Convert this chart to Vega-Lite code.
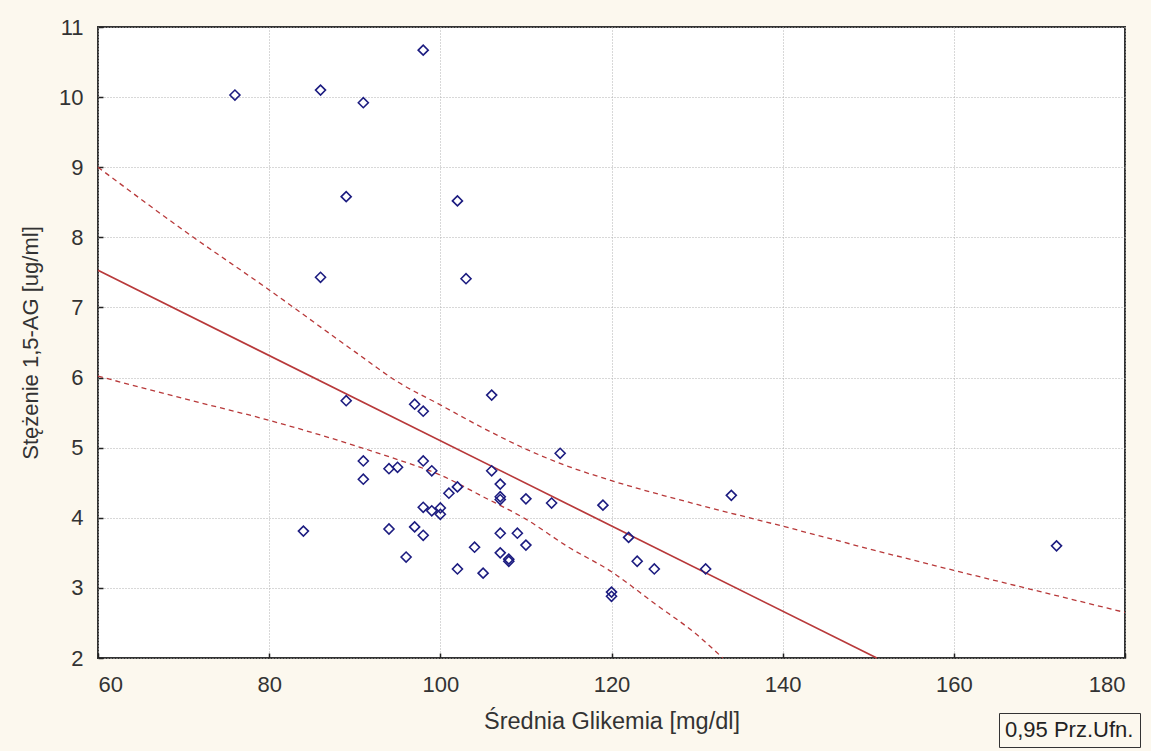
{
  "$schema": "https://vega.github.io/schema/vega-lite/v6.json",
  "width": 1027,
  "height": 631,
  "autosize": "none",
  "padding": {"left": 98, "top": 27, "right": 26, "bottom": 93},
  "background": "#fcf8ee",
  "config": {
    "font": "Liberation Sans",
    "view": {"fill": "white", "stroke": "#333333", "strokeWidth": 2},
    "axis": {
      "domain": false,
      "grid": true,
      "gridColor": "#b0b0b0",
      "gridDash": [1, 2],
      "gridWidth": 1,
      "tickColor": "#222",
      "tickSize": -5,
      "tickWidth": 1.5,
      "labelFontSize": 22,
      "labelColor": "#333",
      "titleFontSize": 22,
      "titleFontWeight": "normal",
      "titleColor": "#333"
    }
  },
  "datasets": {
    "pts": [
      {"x": 76, "y": 10.03}, {"x": 86, "y": 10.1}, {"x": 91, "y": 9.92}, {"x": 98, "y": 10.67},
      {"x": 89, "y": 8.58}, {"x": 102, "y": 8.52}, {"x": 86, "y": 7.43}, {"x": 103, "y": 7.41},
      {"x": 89, "y": 5.67}, {"x": 97, "y": 5.62}, {"x": 98, "y": 5.52}, {"x": 106, "y": 5.75},
      {"x": 114, "y": 4.92}, {"x": 91, "y": 4.81}, {"x": 91, "y": 4.55}, {"x": 94, "y": 4.7},
      {"x": 95, "y": 4.72}, {"x": 98, "y": 4.81}, {"x": 99, "y": 4.67}, {"x": 106, "y": 4.67},
      {"x": 107, "y": 4.48}, {"x": 107, "y": 4.3}, {"x": 107, "y": 4.26}, {"x": 110, "y": 4.27},
      {"x": 101, "y": 4.35}, {"x": 102, "y": 4.44}, {"x": 98, "y": 4.15}, {"x": 99, "y": 4.1},
      {"x": 100, "y": 4.14}, {"x": 100, "y": 4.05}, {"x": 113, "y": 4.21}, {"x": 119, "y": 4.18},
      {"x": 134, "y": 4.32}, {"x": 84, "y": 3.81}, {"x": 94, "y": 3.84}, {"x": 97, "y": 3.87},
      {"x": 98, "y": 3.75}, {"x": 107, "y": 3.78}, {"x": 109, "y": 3.78}, {"x": 110, "y": 3.61},
      {"x": 104, "y": 3.58}, {"x": 107, "y": 3.5}, {"x": 108, "y": 3.41}, {"x": 108, "y": 3.38},
      {"x": 96, "y": 3.44}, {"x": 102, "y": 3.27}, {"x": 105, "y": 3.21}, {"x": 122, "y": 3.72},
      {"x": 123, "y": 3.38}, {"x": 125, "y": 3.27}, {"x": 131, "y": 3.27}, {"x": 120, "y": 2.94},
      {"x": 120, "y": 2.88}, {"x": 172, "y": 3.6}
    ],
    "fit": [{"x": 60, "y": 7.53}, {"x": 151, "y": 2.0}],
    "bands": [
      {"x": 60, "y": 9.0, "b": "upper", "ci": "0,95 Prz.Ufn."},
      {"x": 70, "y": 8.1, "b": "upper", "ci": "0,95 Prz.Ufn."},
      {"x": 80, "y": 7.25, "b": "upper", "ci": "0,95 Prz.Ufn."},
      {"x": 90, "y": 6.37, "b": "upper", "ci": "0,95 Prz.Ufn."},
      {"x": 95, "y": 5.94, "b": "upper", "ci": "0,95 Prz.Ufn."},
      {"x": 100, "y": 5.61, "b": "upper", "ci": "0,95 Prz.Ufn."},
      {"x": 105, "y": 5.28, "b": "upper", "ci": "0,95 Prz.Ufn."},
      {"x": 110, "y": 4.98, "b": "upper", "ci": "0,95 Prz.Ufn."},
      {"x": 115, "y": 4.73, "b": "upper", "ci": "0,95 Prz.Ufn."},
      {"x": 120, "y": 4.53, "b": "upper", "ci": "0,95 Prz.Ufn."},
      {"x": 130, "y": 4.19, "b": "upper", "ci": "0,95 Prz.Ufn."},
      {"x": 140, "y": 3.88, "b": "upper", "ci": "0,95 Prz.Ufn."},
      {"x": 150, "y": 3.56, "b": "upper", "ci": "0,95 Prz.Ufn."},
      {"x": 160, "y": 3.25, "b": "upper", "ci": "0,95 Prz.Ufn."},
      {"x": 170, "y": 2.95, "b": "upper", "ci": "0,95 Prz.Ufn."},
      {"x": 180, "y": 2.65, "b": "upper", "ci": "0,95 Prz.Ufn."},
      {"x": 60, "y": 6.02, "b": "lower", "ci": "0,95 Prz.Ufn."},
      {"x": 70, "y": 5.7, "b": "lower", "ci": "0,95 Prz.Ufn."},
      {"x": 80, "y": 5.39, "b": "lower", "ci": "0,95 Prz.Ufn."},
      {"x": 90, "y": 5.03, "b": "lower", "ci": "0,95 Prz.Ufn."},
      {"x": 95, "y": 4.83, "b": "lower", "ci": "0,95 Prz.Ufn."},
      {"x": 100, "y": 4.61, "b": "lower", "ci": "0,95 Prz.Ufn."},
      {"x": 105, "y": 4.3, "b": "lower", "ci": "0,95 Prz.Ufn."},
      {"x": 110, "y": 3.98, "b": "lower", "ci": "0,95 Prz.Ufn."},
      {"x": 115, "y": 3.58, "b": "lower", "ci": "0,95 Prz.Ufn."},
      {"x": 120, "y": 3.23, "b": "lower", "ci": "0,95 Prz.Ufn."},
      {"x": 125, "y": 2.78, "b": "lower", "ci": "0,95 Prz.Ufn."},
      {"x": 130, "y": 2.33, "b": "lower", "ci": "0,95 Prz.Ufn."},
      {"x": 133, "y": 2.0, "b": "lower", "ci": "0,95 Prz.Ufn."}
    ]
  },
  "layer": [
    {
      "data": {"name": "bands"},
      "mark": {"type": "line", "strokeWidth": 1.3, "strokeDash": [5, 4], "interpolate": "monotone"},
      "encoding": {
        "x": {"field": "x", "type": "quantitative", "scale": {"domain": [60, 180], "nice": false},
          "axis": {"values": [60, 80, 100, 120, 140, 160, 180], "format": "d", "title": "Średnia Glikemia [mg/dl]", "titleFontSize": 23.5, "labelPadding": 21, "titlePadding": 14}},
        "y": {"field": "y", "type": "quantitative", "scale": {"domain": [2, 11], "nice": false},
          "axis": {"values": [2, 3, 4, 5, 6, 7, 8, 9, 10, 11], "format": "d", "title": "Stężenie 1,5-AG [ug/ml]", "labelPadding": 20, "titlePadding": 16}},
        "detail": {"field": "b"},
        "color": {"field": "ci", "type": "nominal", "scale": {"range": ["#b8393a"]},
          "legend": {"title": null, "orient": "none", "legendX": 901, "legendY": 686,
            "symbolSize": 0, "symbolOpacity": 0, "symbolStrokeWidth": 0, "labelOffset": -22,
            "labelFontSize": 22, "labelColor": "#222", "strokeColor": "#333", "fillColor": "#fcf8ee", "padding": 6}}
      }
    },
    {
      "data": {"name": "fit"},
      "mark": {"type": "line", "color": "#b8393a", "strokeWidth": 1.7},
      "encoding": {
        "x": {"field": "x", "type": "quantitative"},
        "y": {"field": "y", "type": "quantitative"}
      }
    },
    {
      "data": {"name": "pts"},
      "mark": {"type": "point", "shape": "diamond", "filled": false, "size": 100, "color": "#1c1c80", "strokeWidth": 1.6, "opacity": 1},
      "encoding": {
        "x": {"field": "x", "type": "quantitative"},
        "y": {"field": "y", "type": "quantitative"}
      }
    }
  ]
}
